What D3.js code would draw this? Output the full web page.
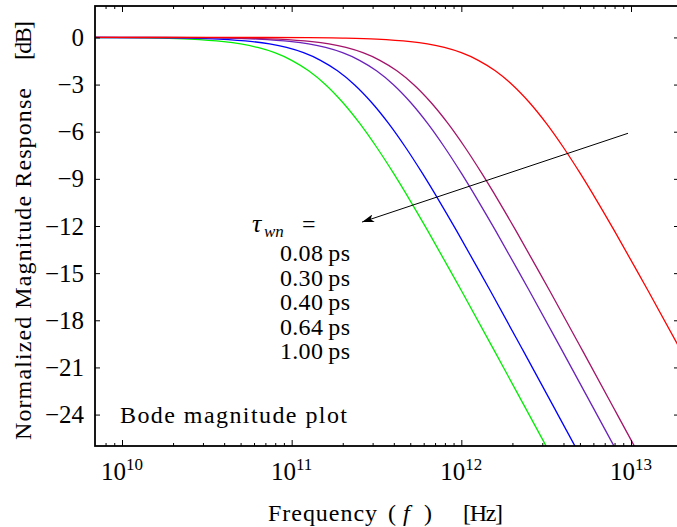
<!DOCTYPE html>
<html><head><meta charset="utf-8">
<script src="https://cdn.jsdelivr.net/npm/d3@7"></script>
<style>
body{margin:0;background:#fff}
svg{display:block}
svg text{font-family:'Liberation Serif','DejaVu Serif','Times New Roman',serif !important;fill:#000}
</style>
</head><body>
<svg id="c" width="677" height="527"></svg>
<script>
// ---- data ----
const legendLabels = ["0.08 ps", "0.30 ps", "0.40 ps", "0.64 ps", "1.00 ps"];

const freqGreen = [3.98e9, 1e10, 1.585e10, 2.512e10, 3.981e10, 5.012e10, 6.31e10, 7.943e10, 1e11, 1.259e11, 1.585e11, 1.995e11, 2.512e11, 3.162e11, 3.981e11, 5.012e11, 6.31e11, 1e12, 1.585e12, 2.512e12, 3.981e12];
const dbGreen   = [-0.003, -0.017, -0.043, -0.108, -0.266, -0.414, -0.640, -0.973, -1.457, -2.125, -3.010, -4.125, -5.455, -6.973, -8.639, -10.414, -12.266, -16.108, -20.043, -24.017, -28.007];

const freqBlue = [5.888e9, 1.479e10, 2.344e10, 3.715e10, 5.888e10, 7.413e10, 9.333e10, 1.175e11, 1.479e11, 1.862e11, 2.344e11, 2.951e11, 3.715e11, 4.677e11, 5.888e11, 7.413e11, 9.333e11, 1.479e12, 2.344e12, 3.715e12, 5.888e12];
const dbBlue   = [-0.003, -0.017, -0.043, -0.108, -0.266, -0.414, -0.640, -0.973, -1.457, -2.125, -3.010, -4.125, -5.455, -6.973, -8.639, -10.414, -12.266, -16.108, -20.043, -24.017, -28.007];

const freqPurple = [3.981e9, 1e10, 2.512e10, 3.981e10, 6.31e10, 1e11, 1.259e11, 1.585e11, 1.995e11, 2.512e11, 3.162e11, 3.981e11, 5.012e11, 6.31e11, 7.943e11, 1e12, 1.259e12, 1.585e12, 2.512e12, 3.981e12, 6.31e12, 1e13];
const dbPurple   = [0, -0.003, -0.017, -0.043, -0.108, -0.266, -0.414, -0.640, -0.973, -1.457, -2.125, -3.010, -4.125, -5.455, -6.973, -8.639, -10.414, -12.266, -16.108, -20.043, -24.017, -28.007];

const freqMaroon = [5.248e9, 1.318e10, 3.311e10, 5.248e10, 8.318e10, 1.318e11, 1.66e11, 2.089e11, 2.63e11, 3.311e11, 4.169e11, 5.248e11, 6.607e11, 8.318e11, 1.047e12, 1.318e12, 1.66e12, 2.089e12, 3.311e12, 5.248e12, 8.318e12, 1.318e13];
const dbMaroon   = [0, -0.003, -0.017, -0.043, -0.108, -0.266, -0.414, -0.640, -0.973, -1.457, -2.125, -3.010, -4.125, -5.455, -6.973, -8.639, -10.414, -12.266, -16.108, -20.043, -24.017, -28.007];

const freqRed = [5.012e9, 1.995e10, 5.012e10, 1.259e11, 1.995e11, 3.162e11, 5.012e11, 6.31e11, 7.943e11, 1e12, 1.259e12, 1.585e12, 1.995e12, 2.512e12, 3.162e12, 3.981e12, 5.012e12, 6.31e12, 7.943e12, 1.259e13, 1.995e13, 3.162e13];
const dbRed   = [0, 0, -0.003, -0.017, -0.043, -0.108, -0.266, -0.414, -0.640, -0.973, -1.457, -2.125, -3.010, -4.125, -5.455, -6.973, -8.639, -10.414, -12.266, -16.108, -20.043, -24.017];

const yTicks = [0, -3, -6, -9, -12, -15, -18, -21, -24];
const xMajorTicks = [1e10, 1e11, 1e12, 1e13];
const xTickExponents = ["10", "11", "12", "13"];
const arrowFrom = [9.6e12, -6.1];
const arrowTo = [2.6e11, -11.75];

// ---- drawing ----
const FONT = "'Liberation Serif','DejaVu Serif','Times New Roman',serif";
const series = [
  {f: freqGreen,  v: dbGreen,  color: "#00ee00"},
  {f: freqBlue,   v: dbBlue,   color: "#0000ff"},
  {f: freqPurple, v: dbPurple, color: "#6a22bb"},
  {f: freqMaroon, v: dbMaroon, color: "#a3146a"},
  {f: freqRed,    v: dbRed,    color: "#ff0000"}
];

const L = 95, R = 679, T = 6, B = 446;
const svg = d3.select("#c");
const x = d3.scaleLog().domain([1e10, 1e13]).range([122, 631]);
const y = d3.scaleLinear().domain([2, -26]).range([T, B]);

svg.append("defs").append("clipPath").attr("id", "clip")
  .append("rect").attr("x", L).attr("y", T).attr("width", R - L).attr("height", B - T);

const line = d3.line().x(d => x(d[0])).y(d => y(d[1])).curve(d3.curveCatmullRom.alpha(0.5));
const g = svg.append("g").attr("clip-path", "url(#clip)");
series.forEach(s => {
  g.append("path").attr("d", line(s.f.map((f, i) => [f, s.v[i]])))
    .attr("fill", "none").attr("stroke", s.color).attr("stroke-width", 1.3);
});

// minor ticks
const minor = [];
for (let e = 9; e <= 13; e++) for (let k = 2; k <= 9; k++) {
  const v = k * Math.pow(10, e);
  if (x(v) > L + 1 && x(v) < R - 1) minor.push(v);
}
function styleAxis(sel) {
  sel.select(".domain").remove();
  sel.selectAll("line").attr("stroke", "#000").attr("stroke-width", 1);
  sel.selectAll("text").remove();
}
svg.append("g").attr("transform", `translate(0,${B})`).call(d3.axisBottom(x).tickValues(xMajorTicks).tickSize(-6)).call(styleAxis);
svg.append("g").attr("transform", `translate(0,${B})`).call(d3.axisBottom(x).tickValues(minor).tickSize(-3)).call(styleAxis);
svg.append("g").attr("transform", `translate(0,${T})`).call(d3.axisTop(x).tickValues(xMajorTicks).tickSize(-6)).call(styleAxis);
svg.append("g").attr("transform", `translate(0,${T})`).call(d3.axisTop(x).tickValues(minor).tickSize(-3)).call(styleAxis);
svg.append("g").attr("transform", `translate(${R},0)`).call(d3.axisRight(y).tickValues(yTicks).tickSize(-5)).call(styleAxis);

const yAxis = svg.append("g").attr("transform", `translate(${L},0)`)
  .call(d3.axisLeft(y).tickValues(yTicks).tickSize(-5).tickPadding(11)
    .tickFormat(d => d < 0 ? "\u2212" + (-d) : String(d)));
yAxis.attr("font-family", FONT).attr("font-size", 25);
yAxis.select(".domain").remove();
yAxis.selectAll("line").attr("stroke", "#000");
yAxis.selectAll("text").attr("fill", "#000");

function txt(sel) { return sel.append("text").attr("font-family", FONT).attr("font-size", 24); }

// x tick labels 10^n
xMajorTicks.forEach((v, i) => {
  const t = txt(svg).attr("x", x(v)).attr("y", 480).attr("text-anchor", "middle").attr("font-size", 25);
  t.append("tspan").text("10");
  t.append("tspan").attr("font-size", 17).attr("dy", -10).text(xTickExponents[i]);
});

// frame
svg.append("rect").attr("x", L).attr("y", T).attr("width", R - L).attr("height", B - T)
  .attr("fill", "none").attr("stroke", "#000").attr("stroke-width", 1.8);

// axis titles
const xt = txt(svg).attr("y", 521);
xt.append("tspan").attr("x", 268).attr("textLength", 109).attr("lengthAdjust", "spacing").text("Frequency");
xt.append("tspan").attr("x", 388).text("(");
xt.append("tspan").attr("x", 403).attr("font-style", "italic").text("f");
xt.append("tspan").attr("x", 424).text(")");
xt.append("tspan").attr("x", 463).attr("textLength", 40).attr("lengthAdjust", "spacing").text("[Hz]");

txt(svg).attr("transform", "translate(31,440) rotate(-90)")
  .attr("textLength", 352).attr("lengthAdjust", "spacing").text("Normalized Magnitude Response");
txt(svg).attr("transform", "translate(31,21) rotate(-90)").attr("text-anchor", "end")
  .attr("textLength", 39).attr("lengthAdjust", "spacing").text("[dB]");

// annotation
txt(svg).attr("x", 120).attr("y", 423)
  .attr("textLength", 227).attr("lengthAdjust", "spacing").text("Bode magnitude plot");

const tw = txt(svg).attr("y", 232);
tw.append("tspan").attr("x", 252).attr("font-style", "italic").attr("font-size", 26).text("\u03C4");
tw.append("tspan").attr("x", 264).attr("font-style", "italic").attr("font-size", 17).attr("dy", 5).text("wn");
tw.append("tspan").attr("x", 302).attr("dy", -5).text("=");

legendLabels.forEach((lab, i) => {
  txt(svg).attr("x", 280).attr("y", 261 + i * 24.6)
    .attr("textLength", 70).attr("lengthAdjust", "spacing").text(lab.replace(" ", "\u2009"));
});

// arrow
svg.select("defs").append("marker").attr("id", "ah").attr("viewBox", "0 0 12 8")
  .attr("refX", 12).attr("refY", 4).attr("markerWidth", 12).attr("markerHeight", 8)
  .attr("markerUnits", "userSpaceOnUse").attr("orient", "auto")
  .append("path").attr("d", "M0,0 L12,4 L0,8 L3,4 Z").attr("fill", "#000");
svg.append("line").attr("x1", x(arrowFrom[0])).attr("y1", y(arrowFrom[1]))
  .attr("x2", x(arrowTo[0])).attr("y2", y(arrowTo[1]))
  .attr("stroke", "#000").attr("stroke-width", 1).attr("marker-end", "url(#ah)");
</script>
</body></html>
